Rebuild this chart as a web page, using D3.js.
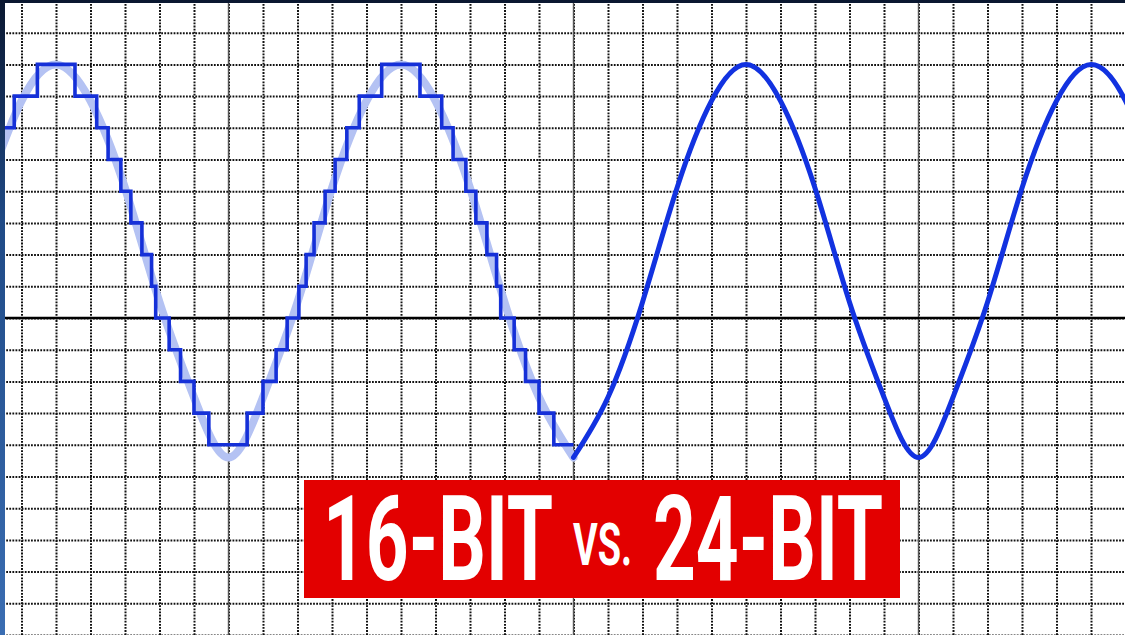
<!DOCTYPE html>
<html>
<head>
<meta charset="utf-8">
<script src="https://cdn.jsdelivr.net/npm/d3@7"></script>
<style>
  body { margin: 0; background: #fff; }
  svg { display: block; }
</style>
</head>
<body>
<script>
const w = 1125;
const h = 635;

// grid cells: x = 0 at the first trough, y = 0 at the zero line
const gridX = d3.range(-7, 27);
const gridY = d3.range(-10, 11);
const majorX = [0, 10, 20];

// analog wave, one sample per grid cell
const waveX = [-7, -6, -5, -4, -3, -2, -1, 0, 1, 2, 3, 4, 5, 6, 7, 8, 9, 10,
               11, 12, 13, 14, 15, 16, 17, 18, 19, 20, 21, 22, 23, 24, 25, 26, 27];
const waveY = [4.1, 6.85, 8.0, 6.85, 4.1, 0.5, -2.5, -4.4, -2.5, 0.5, 4.1, 6.85, 8.0, 6.85, 4.1, 0.5, -2.5, -4.4,
               -2.5, 0.5, 4.1, 6.85, 8.0, 6.85, 4.1, 0.5, -2.5, -4.4, -2.5, 0.5, 4.1, 6.85, 8.0, 6.85, 4.1];

// 16-bit staircase: where each step starts and its level
const stepX = [-6.7, -6.21, -5.54, -4.45, -3.82, -3.49, -3.12, -2.83, -2.51, -2.23, -2.11, -1.72, -1.39, -1.00,
               -0.57, 0.54, 1.00, 1.38, 1.70, 2.04, 2.25, 2.48, 2.80, 3.09, 3.43, 3.79, 4.44, 5.55, 6.18, 6.51,
               6.88, 7.17, 7.49, 7.77, 7.89, 8.28, 8.61, 9.00, 9.43, 10.0];
const stepLevel = [6, 7, 8, 7, 6, 5, 4, 3, 2, 1, 0, -1, -2, -3, -4, -3, -2, -1, 0, 1, 2, 3, 4, 5, 6, 7, 8, 7,
                   6, 5, 4, 3, 2, 1, 0, -1, -2, -3, -4, -4];

const splitAt = 10; // where the smooth 24-bit wave takes over

// banner words
const words = ["16-BIT", "VS.", "24-BIT"];

const xScale = d3.scaleLinear().domain([0, 10]).range([228.5, 573.5]);
const yScale = d3.scaleLinear().domain([0, 10]).range([318, 1]);

const svg = d3.select("body").append("svg")
    .attr("width", w)
    .attr("height", h);

const defs = svg.append("defs");
const grad = defs.append("linearGradient")
    .attr("id", "frame")
    .attr("x1", 0).attr("y1", 0).attr("x2", 0).attr("y2", 1);
grad.append("stop").attr("offset", "0%").attr("stop-color", "#0a1730");
grad.append("stop").attr("offset", "35%").attr("stop-color", "#1f4a86");
grad.append("stop").attr("offset", "100%").attr("stop-color", "#3a6db2");

defs.append("clipPath").attr("id", "plot")
  .append("rect")
    .attr("x", 5).attr("y", 3)
    .attr("width", w - 5).attr("height", h - 3);

// dark frame on top/left, white paper
svg.append("rect").attr("width", w).attr("height", h).attr("fill", "url(#frame)");
svg.append("rect").attr("x", 5).attr("y", 3)
    .attr("width", w - 5).attr("height", h - 3)
    .attr("fill", "#ffffff");

const plot = svg.append("g").attr("clip-path", "url(#plot)");

// dotted grid through axes
const xGrid = d3.axisBottom(xScale).tickValues(gridX).tickSize(-h).tickFormat("");
const yGrid = d3.axisLeft(yScale).tickValues(gridY).tickSize(-w).tickFormat("");

plot.append("g")
    .attr("class", "grid")
    .attr("transform", `translate(0, ${h})`)
    .call(xGrid);
plot.append("g")
    .attr("class", "grid")
    .attr("transform", `translate(0, 0)`)
    .call(yGrid);
plot.selectAll(".grid .domain").remove();
plot.selectAll(".grid line")
    .attr("stroke", "#111")
    .attr("stroke-width", 2)
    .attr("stroke-dasharray", "1.8,1.3");

// solid guide lines
plot.selectAll(".major")
    .data(majorX)
    .enter()
    .append("line")
    .attr("x1", d => xScale(d)).attr("x2", d => xScale(d))
    .attr("y1", 0).attr("y2", h)
    .attr("stroke", "#555")
    .attr("stroke-width", 1.4);

plot.append("line")
    .attr("x1", 0).attr("x2", w)
    .attr("y1", yScale(0)).attr("y2", yScale(0))
    .attr("stroke", "#000")
    .attr("stroke-width", 2.6);

const wave = waveX.map((x, i) => [x, waveY[i]]);
const line = d3.line()
    .x(d => xScale(d[0]))
    .y(d => yScale(d[1]))
    .curve(d3.curveNatural);

// faint analog signal under the steps
plot.append("path")
    .datum(wave.filter(d => d[0] <= splitAt))
    .attr("d", line)
    .attr("fill", "none")
    .attr("stroke", "#b4c2f3")
    .attr("stroke-width", 8)
    .attr("stroke-linecap", "round");

// 16-bit steps
const steps = stepX.map((x, i) => [x, stepLevel[i]]);
plot.append("path")
    .datum(steps)
    .attr("d", d3.line()
        .x(d => xScale(d[0]))
        .y(d => yScale(d[1]))
        .curve(d3.curveStepAfter))
    .attr("fill", "none")
    .attr("stroke", "#1530d8")
    .attr("stroke-width", 3.6)
    .attr("stroke-linejoin", "miter");

// 24-bit smooth wave
plot.append("path")
    .datum(wave.filter(d => d[0] >= splitAt))
    .attr("d", line)
    .attr("fill", "none")
    .attr("stroke", "#1232e0")
    .attr("stroke-width", 5)
    .attr("stroke-linecap", "round");

// title banner
const banner = svg.append("g");
banner.append("rect")
    .attr("x", 304).attr("y", 480)
    .attr("width", 596).attr("height", 118)
    .attr("fill", "#e30000");

// x, baseline, target width, font size
const wordPos = [[323, 580, 230, 119], [573, 565, 59, 60], [653, 580, 230, 119]];

banner.selectAll("text")
    .data(words)
    .enter()
    .append("text")
    .attr("font-family", "Roboto, 'DejaVu Sans Condensed', sans-serif")
    .attr("font-weight", 700)
    .attr("font-size", (d, i) => wordPos[i][3])
    .attr("fill", "#fff")
    .text(d => d)
    .each(function(d, i) {
        const p = wordPos[i];
        const natural = this.getComputedTextLength();
        d3.select(this).attr("transform", `translate(${p[0]}, ${p[1]}) scale(${p[2] / natural}, 1)`);
    });
</script>
</body>
</html>
